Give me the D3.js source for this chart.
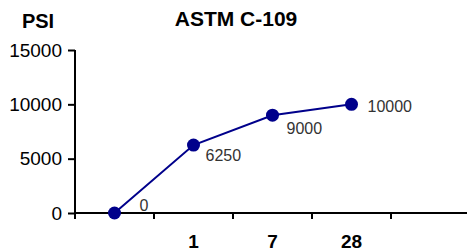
<!DOCTYPE html>
<html>
<head>
<meta charset="utf-8">
<script src="https://cdn.jsdelivr.net/npm/d3@7"></script>
<style>
  body { margin: 0; background: #fff; }
  svg { display: block; font-family: "Liberation Sans", Arial, Helvetica, sans-serif; }
</style>
</head>
<body>
<div id="viz"></div>
<script>
// Chart data
const categories = ["", "1", "7", "28", " "];
const strengths = [0, 6250, 9000, 10000, null];
const yTicks = [0, 5000, 10000, 15000];

// Label offsets (layout only)
const labelOffsets = [[25, -8], [12, 10], [14, 13], [16, 2]];

const width = 467;
const height = 251;
const margin = { top: 50, right: -3, bottom: 38, left: 75 };

const svg = d3.select("#viz")
    .append("svg")
    .attr("width", width)
    .attr("height", height);

const x = d3.scaleBand()
    .domain(categories)
    .range([margin.left, width - margin.right]);

const y = d3.scaleLinear()
    .domain([0, 15000])
    .range([height - margin.bottom, margin.top]);

const navy = "#00008b";

// Titles
svg.append("text")
    .attr("x", 38)
    .attr("y", 28)
    .attr("text-anchor", "middle")
    .style("font-size", "20px")
    .style("font-weight", "bold")
    .text("PSI");

svg.append("text")
    .attr("x", 236)
    .attr("y", 26)
    .attr("text-anchor", "middle")
    .style("font-size", "21px")
    .style("font-weight", "bold")
    .text("ASTM C-109");

// Y axis
const yAxis = svg.append("g")
    .attr("transform", `translate(${margin.left},0)`)
    .call(d3.axisLeft(y).tickValues(yTicks).tickSize(7).tickPadding(6).tickFormat(d3.format("d")));
yAxis.select(".domain").attr("d", `M0,${y(15000)}V${y(0) + 6}`);
yAxis.selectAll("path, line").attr("stroke", "#000").attr("stroke-width", 2);
yAxis.selectAll("text")
    .style("font-size", "19px")
    .style("font-family", "'Liberation Sans', Arial, sans-serif")
    .attr("fill", "#000");

// X axis: line, ticks at category boundaries
const xAxis = svg.append("g");
xAxis.append("line")
    .attr("x1", margin.left)
    .attr("x2", width)
    .attr("y1", y(0))
    .attr("y2", y(0))
    .attr("stroke", "#000")
    .attr("stroke-width", 2);

xAxis.selectAll("line.tick")
    .data(categories.slice(1))
    .enter()
    .append("line")
    .attr("class", "tick")
    .attr("x1", d => x(d))
    .attr("x2", d => x(d))
    .attr("y1", y(0))
    .attr("y2", y(0) + 6)
    .attr("stroke", "#000")
    .attr("stroke-width", 2);

xAxis.selectAll("text")
    .data(categories)
    .enter()
    .append("text")
    .attr("x", d => x(d) + x.bandwidth() / 2)
    .attr("y", y(0) + 35)
    .attr("text-anchor", "middle")
    .style("font-size", "19px")
    .style("font-weight", "bold")
    .text(d => d.trim());

// Line + points
const points = categories
    .map((c, i) => ({ cat: c, value: strengths[i], i: i }))
    .filter(d => d.value !== null);

const line = d3.line()
    .x(d => x(d.cat) + x.bandwidth() / 2)
    .y(d => y(d.value));

svg.append("path")
    .datum(points)
    .attr("d", line)
    .attr("fill", "none")
    .attr("stroke", navy)
    .attr("stroke-width", 2);

svg.selectAll("circle.pt")
    .data(points)
    .enter()
    .append("circle")
    .attr("class", "pt")
    .attr("cx", d => x(d.cat) + x.bandwidth() / 2)
    .attr("cy", d => y(d.value))
    .attr("r", 6.5)
    .attr("fill", navy);

svg.selectAll("text.lbl")
    .data(points)
    .enter()
    .append("text")
    .attr("class", "lbl")
    .attr("x", d => x(d.cat) + x.bandwidth() / 2 + labelOffsets[d.i][0])
    .attr("y", d => y(d.value) + labelOffsets[d.i][1])
    .attr("dy", "0.35em")
    .style("font-size", "16px")
    .attr("fill", "#333")
    .text(d => d.value);
</script>
</body>
</html>
